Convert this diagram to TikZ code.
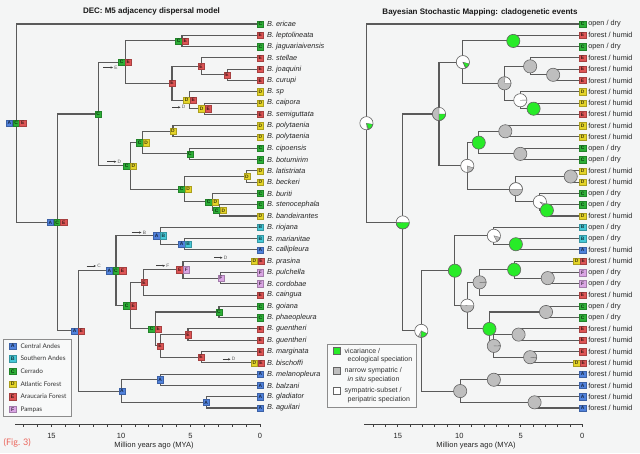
\documentclass[tikz,border=0pt]{standalone}
\usepackage{fontspec}
\setmainfont{Liberation Sans}
\newfontfamily\legfont{Lato}
\usetikzlibrary{arrows.meta}
\definecolor{bg}{RGB}{244,245,245}
\definecolor{branchc}{RGB}{90,90,90}
\definecolor{areaA}{RGB}{80,130,220}
\definecolor{areaB}{RGB}{70,200,215}
\definecolor{areaC}{RGB}{45,175,55}
\definecolor{areaD}{RGB}{228,212,40}
\definecolor{areaE}{RGB}{222,85,85}
\definecolor{areaF}{RGB}{218,165,228}
\definecolor{vicg}{RGB}{40,235,40}
\definecolor{symg}{RGB}{190,190,190}
\definecolor{pieline}{RGB}{100,100,100}
\definecolor{figred}{RGB}{235,100,90}
\newcommand\mk[3]{\coordinate (L-#1) at ({260-13.9*#2},#3);\coordinate (R-#1) at ({582.3-12.3*#2},#3);}
\newcommand\arealab[4]{\foreach \x [count=\k] in #3 {\node[abox=\x, name=#1-\k] at ([xshift={(#4+(\k-(#2+1)/2)*6.6)*1pt}]#1) {\x};}}
\def\pr{6.6pt}
\newcommand\piefull[2]{\filldraw[fill=#2, draw=pieline, line width=0.6pt] (#1) circle[radius=\pr];}
\newcommand\piepart[3]{\fill[#2] (#1) circle[radius=\pr];
 \foreach \aa/\bb/\cl in {#3} {\filldraw[fill=\cl, draw=pieline, line width=0.3pt, line join=round] (#1) -- ++(\aa:\pr) arc[start angle=\aa, end angle=\bb, radius=\pr] -- cycle;}
 \draw[pieline, line width=0.6pt] (#1) circle[radius=\pr];}
\newcommand\disp[5]{\coordinate (#1-s) at (#2,#4); \coordinate (#1-e) at (#3,#4);
 \draw[disparrow] (#1-s) -- (#1-e);
 \node[displab] (#1-l) at ([xshift=1.2pt]#1-e) {#5};}
\def\sto{open / dry}
\def\stf{forest / humid}
\begin{document}
\begin{tikzpicture}[x=1pt,y=-1pt,
  branch/.style={draw=branchc, line width=1.05pt},
  abox/.style={fill=area#1, draw=area#1!75!black, line width=0.25pt, text=area#1!30!black, minimum size=6.3pt, inner sep=0pt, font=\fontsize{4.9}{4.9}\selectfont\bfseries},
  lbox/.style={abox=#1, minimum size=6.6pt, font=\fontsize{5.2}{5.2}\selectfont\bfseries},
  tipname/.style={anchor=west, font=\fontsize{7.3}{8}\selectfont\itshape, text=black!85, inner sep=0pt},
  tipstate/.style={anchor=west, font=\fontsize{7.3}{8}\selectfont, text=black!85, inner sep=0pt},
  disparrow/.style={-{Stealth[length=2.4pt,width=2.2pt]}, line width=0.6pt, draw=black!75},
  displab/.style={anchor=west, font=\fontsize{4.8}{5}\selectfont, text=black!65, inner sep=0pt},
  ttl/.style={font=\fontsize{8}{9}\selectfont\bfseries, text=black!90, inner sep=0pt},
  axisline/.style={draw=black!75, line width=0.8pt},
  axlab/.style={font=\fontsize{7.5}{8}\selectfont, text=black!85, inner sep=0pt},
  legtxt/.style={anchor=west, font=\legfont\fontsize{6.4}{7}\selectfont, text=black!80, inner sep=0pt},
  rlegtxt/.style={anchor=west, font=\fontsize{7}{8}\selectfont, text=black!80, inner sep=0pt},
  legframe/.style={draw=black!45, line width=0.6pt, fill=bg!60!white}
]
\useasboundingbox (0,0) rectangle (640,453);
\fill[bg] (0,0) rectangle (640,453);
% titles
\node[ttl] (title-l) at (151.5,11) {DEC: M5 adjacency dispersal model};
\node[ttl] (title-r) at (480,12) {Bayesian Stochastic Mapping: cladogenetic events};
% tip coordinates
\foreach \ii in {1,...,35} {
  \pgfmathsetmacro\yy{24+11.2941*(\ii-1)}
  \coordinate (L-t\ii) at (260,\yy);
  \coordinate (R-t\ii) at (582.3,\yy);
}
% internal nodes (time in Myr, y)
\mk{r}{17.55}{123.22}
\mk{n1}{14.60}{222.44}
\mk{n2}{11.65}{114.0}
\mk{n3}{13.09}{330.88}
\mk{n4}{9.71}{62.12}
\mk{n5}{5.61}{40.94}
\mk{n6}{6.33}{83.29}
\mk{n7}{4.24}{66.35}
\mk{n8}{5.04}{100.24}
\mk{n9}{2.37}{74.82}
\mk{n10}{3.96}{108.71}
\mk{n11}{9.35}{165.88}
\mk{n12}{8.42}{142.59}
\mk{n13}{5.40}{189.18}
\mk{n14}{6.26}{131.29}
\mk{n15}{5.04}{153.88}
\mk{n16}{0.94}{176.47}
\mk{n17}{3.45}{201.88}
\mk{n18}{2.88}{210.35}
\mk{n19}{10.36}{270.71}
\mk{n20}{9.93}{391.06}
\mk{n21}{7.19}{235.76}
\mk{n22}{5.40}{244.24}
\mk{n23}{9.35}{305.65}
\mk{n24}{8.35}{282.35}
\mk{n25}{5.54}{269.65}
\mk{n26}{2.81}{278.12}
\mk{n27}{7.55}{328.94}
\mk{n28}{2.95}{312.0}
\mk{n29}{7.19}{345.88}
\mk{n30}{5.18}{334.59}
\mk{n31}{4.24}{357.18}
\mk{n32}{7.19}{379.76}
\mk{n33}{3.88}{402.35}
% branches of both trees
\foreach \s in {L,R} {
 \foreach \pp/\ca/\cb in {r/t1/n1, n1/n2/n3, n2/n4/n11, n4/n5/n6, n5/t2/t3, n6/n7/n8, n7/t4/n9, n9/t5/t6, n8/t7/n10, n10/t8/t9, n11/n12/n13, n12/n14/n15, n14/t10/t11, n15/t12/t13, n13/n16/n17, n16/t14/t15, n17/t16/n18, n18/t17/t18, n3/n19/n20, n19/n21/n23, n21/t19/n22, n22/t20/t21, n23/n24/n27, n24/n25/t25, n25/t22/n26, n26/t23/t24, n27/n28/n29, n28/t26/t27, n29/n30/n31, n30/t28/t29, n31/t30/t31, n20/n32/n33, n32/t32/t33, n33/t34/t35} {
   \draw[branch] (\s-\ca) -| (\s-\pp) |- (\s-\cb);
 }
}
% DEC node labels (left)
\foreach \pp/\nn/\lst in {r/3/{A,C,E}, n1/3/{A,C,E}, n2/1/C, n3/2/{A,E}, n4/2/{C,E}, n5/2/{C,E}, n6/1/E, n7/1/E, n8/2/{D,E}, n9/1/E, n10/2/{D,E}, n11/2/{C,D}, n12/2/{C,D}, n13/2/{C,D}, n14/1/D, n15/1/C, n16/1/D, n17/2/{C,D}, n18/2/{C,D}, n19/3/{A,C,E}, n20/1/A, n21/2/{A,B}, n22/2/{A,B}, n23/2/{C,E}, n24/1/E, n25/2/{E,F}, n26/1/F, n27/2/{C,E}, n28/1/C, n29/1/E, n30/1/E, n31/1/E, n32/1/A, n33/1/A} {
  \arealab{L-\pp}{\nn}{\lst}{0}
}
% dispersal arrows
\disp{dE1}{103}{113}{67.5}{E}
\disp{dD1}{172}{180.5}{107.3}{D}
\disp{dD2}{107.3}{116.3}{161.7}{D}
\disp{dB1}{131.7}{141.5}{232.5}{B}
\disp{dC1}{86.7}{96}{266}{C}
\disp{dF1}{156}{165}{265.7}{F}
\disp{dD3}{214}{222.5}{257.7}{D}
\disp{dD4}{222.7}{230.5}{359.3}{D}
% pies (right)
\piepart{R-r}{white}{278/290/symg, 290/350/vicg}
\piepart{R-n1}{white}{180/184/symg, 184/360/vicg}
\piepart{R-n2}{white}{90/270/symg, 270/360/vicg}
\piepart{R-n3}{white}{242/268/symg, 268/335/vicg}
\piepart{R-n4}{white}{293/300/symg, 300/345/vicg}
\piefull{R-n5}{vicg}
\piepart{R-n6}{symg}{0/85/white}
\piefull{R-n7}{symg}
\piepart{R-n8}{white}{0/3/symg}
\piefull{R-n9}{symg}
\piefull{R-n10}{vicg}
\piepart{R-n11}{white}{272/342/symg}
\piefull{R-n12}{vicg}
\piepart{R-n13}{symg}{0/180/white}
\piefull{R-n14}{symg}
\piefull{R-n15}{symg}
\piefull{R-n16}{symg}
\piepart{R-n17}{white}{312/340/symg}
\piefull{R-n18}{vicg}
\piefull{R-n19}{vicg}
\piefull{R-n20}{symg}
\piepart{R-n21}{white}{298/345/symg}
\piefull{R-n22}{vicg}
\piepart{R-n23}{white}{178/360/symg}
\piepart{R-n24}{symg}{0/3/white}
\piefull{R-n25}{vicg}
\piefull{R-n26}{symg}
\piefull{R-n27}{vicg}
\piefull{R-n28}{symg}
\piepart{R-n29}{symg}{0/3/white}
\piefull{R-n30}{symg}
\piepart{R-n31}{symg}{352/356/white}
\piefull{R-n32}{symg}
\piefull{R-n33}{symg}
% tips
\foreach \ii/\nn/\ar/\spn/\stt in {1/1/C/ericae/o, 2/1/E/leptolineata/f, 3/1/C/jaguariaivensis/o, 4/1/E/stellae/f, 5/1/E/joaquini/f, 6/1/E/curupi/f, 7/1/D/sp/f, 8/1/D/caipora/f, 9/1/E/semiguttata/f, 10/1/D/polytaenia/f, 11/1/D/polytaenia/f, 12/1/C/cipoensis/o, 13/1/C/botumirim/o, 14/1/D/latistriata/f, 15/1/D/beckeri/f, 16/1/C/buriti/o, 17/1/C/stenocephala/o, 18/1/D/bandeirantes/f, 19/1/B/riojana/o, 20/1/B/marianitae/o, 21/1/A/callipleura/f, 22/2/{D,E}/prasina/f, 23/1/F/pulchella/o, 24/1/F/cordobae/o, 25/1/E/caingua/f, 26/1/C/goiana/o, 27/1/C/phaeopleura/o, 28/1/E/guentheri/f, 29/1/E/guentheri/f, 30/1/E/marginata/f, 31/2/{D,E}/bischoffi/f, 32/1/A/melanopleura/f, 33/1/A/balzani/f, 34/1/A/gladiator/f, 35/1/A/aguilari/f} {
  \pgfmathsetmacro\boxoff{0.3-(\nn-1)*2.6}
  \arealab{L-t\ii}{\nn}{\ar}{\boxoff}
  \arealab{R-t\ii}{\nn}{\ar}{\boxoff}
  \node[tipname] (lname-\ii) at ([xshift=7pt]L-t\ii) {B. \spn};
  \node[tipstate] (rstate-\ii) at ([xshift=5.8pt]R-t\ii) {\csname st\stt\endcsname};
}
% axes
\draw[axisline] (15,424) -- (260,424);
\foreach \t in {0,...,17} \draw[axisline] ({260-13.9*\t},424) -- ++(0,3.2);
\foreach \t in {0,5,10,15} \node[axlab] (axl-\t) at ({260-13.9*\t},436) {\t};
\node[axlab] (axl-title) at (154,446) {Million years ago (MYA)};
\draw[axisline] (364,424) -- (582.3,424);
\foreach \t in {0,...,17} \draw[axisline] ({582.3-12.3*\t},424) -- ++(0,3.2);
\foreach \t in {0,5,10,15} \node[axlab] (axr-\t) at ({582.3-12.3*\t},436) {\t};
\node[axlab] (axr-title) at (476,446) {Million years ago (MYA)};
% left legend
\draw[legframe] (3,339) rectangle (71,416);
\foreach \ar/\txt [count=\k] in {A/Central Andes, B/Southern Andes, C/Cerrado, D/Atlantic Forest, E/Araucaria Forest, F/Pampas} {
  \node[lbox=\ar] (leg-\ar) at (12.7,{346+12.65*(\k-1)}) {\ar};
  \node[legtxt] (legt-\ar) at (20.3,{346+12.65*(\k-1)}) {\txt};
}
% right legend
\draw[legframe] (327,344) rectangle (416,407);
\node[draw=pieline, line width=0.5pt, fill=vicg, minimum size=7pt, inner sep=0pt] (rl-1) at (337,351) {};
\node[draw=pieline, line width=0.5pt, fill=symg, minimum size=7pt, inner sep=0pt] (rl-2) at (337,371) {};
\node[draw=pieline, line width=0.5pt, fill=white, minimum size=7pt, inner sep=0pt] (rl-3) at (337,391) {};
\node[rlegtxt] (rlt-1a) at (344.5,351) {vicariance /};
\node[rlegtxt] (rlt-1b) at (347.5,360) {ecological speciation};
\node[rlegtxt] (rlt-2a) at (344.5,371) {narrow sympatric /};
\node[rlegtxt] (rlt-2b) at (347.5,380) {\textit{in situ} speciation};
\node[rlegtxt] (rlt-3a) at (344.5,391) {sympatric-subset /};
\node[rlegtxt] (rlt-3b) at (347.5,400) {peripatric speciation};
% figure tag
\node[anchor=west, inner sep=0pt, font=\legfont\fontsize{9}{10}\selectfont, text=figred] (figtag) at (3.5,443) {(Fig. 3)};
\end{tikzpicture}
\end{document}
